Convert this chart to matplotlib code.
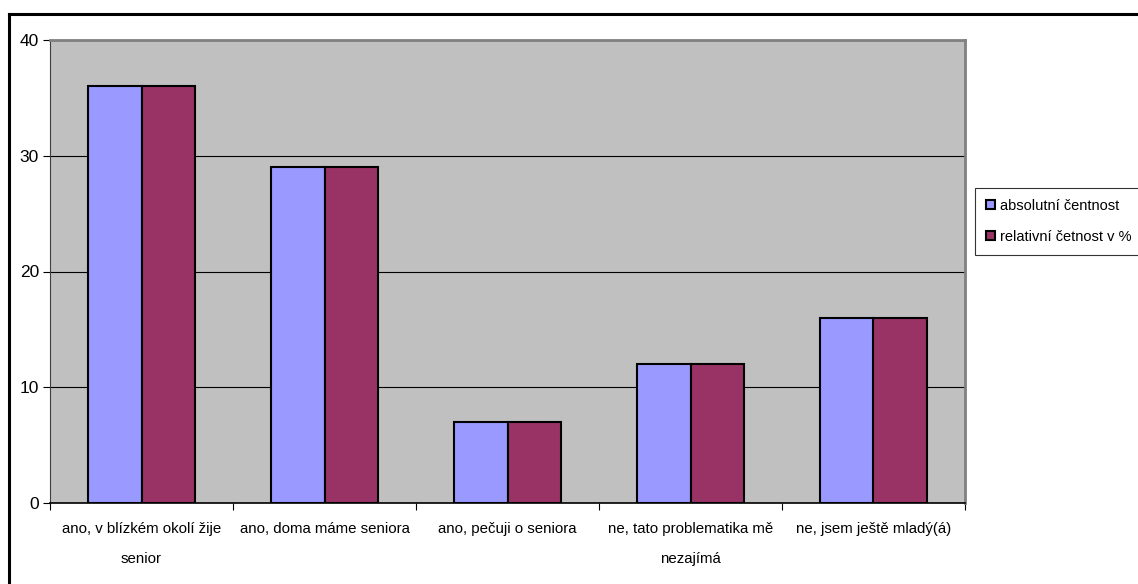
import numpy as np
import matplotlib.pyplot as plt
from matplotlib.lines import Line2D

plt.rcParams['font.family'] = ['Liberation Sans', 'DejaVu Sans']

# Data
categories = [
    "ano, v blízkém okolí žije\nsenior",
    "ano, doma máme seniora",
    "ano, pečuji o seniora",
    "ne, tato problematika mě\nnezajímá",
    "ne, jsem ještě mladý(á)",
]
absolutni = [36, 29, 7, 12, 16]
relativni = [36, 29, 7, 12, 16]
series_names = ["absolutní čentnost", "relativní četnost v %"]

fig = plt.figure(figsize=(11.38, 5.84), dpi=100)
ax = fig.add_axes([50 / 1138, 1 - 503 / 584, 915 / 1138, 463 / 584])
ax.set_facecolor("#C0C0C0")

x = np.arange(len(categories))
w = 0.29
ax.bar(x - w / 2, absolutni, w, color="#9999FF", edgecolor="black",
       linewidth=1.5, label=series_names[0], zorder=3)
ax.bar(x + w / 2, relativni, w, color="#993366", edgecolor="black",
       linewidth=1.5, label=series_names[1], zorder=3)

ax.set_xlim(-0.5, len(categories) - 0.5)
ax.set_ylim(0, 40)
ax.set_yticks([0, 10, 20, 30, 40])
ax.yaxis.grid(True, color="black", linewidth=0.8, zorder=1)

# category ticks sit between groups, labels centred under them
ax.set_xticks(np.arange(len(categories) + 1) - 0.5)
ax.set_xticklabels([])
ax.set_xticks(x, minor=True)
ax.set_xticklabels(categories, minor=True, fontsize=10.8, linespacing=2.4)
ax.tick_params(axis="x", which="minor", length=0, pad=14)
ax.tick_params(axis="x", which="major", length=5, direction="out", color="black")
ax.tick_params(axis="y", length=5, direction="out", labelsize=12.5, pad=3)

ax.spines["top"].set_color("#808080")
ax.spines["right"].set_color("#808080")
ax.spines["top"].set_linewidth(2)
ax.spines["right"].set_linewidth(2)
ax.spines["left"].set_color("#404040")
ax.spines["bottom"].set_color("black")
ax.spines["bottom"].set_linewidth(1.2)

# outer chart frame
fig.add_artist(Line2D([9 / 1138, 1.0], [1 - 14 / 584, 1 - 14 / 584],
                      color="black", linewidth=2.2, transform=fig.transFigure))
fig.add_artist(Line2D([9 / 1138, 9 / 1138], [0, 1 - 14 / 584],
                      color="black", linewidth=2.2, transform=fig.transFigure))

leg = fig.legend(loc="upper left", bbox_to_anchor=(975 / 1138, 1 - 188 / 584),
                 fontsize=10.5, frameon=True, fancybox=False, edgecolor="black",
                 handlelength=0.6, handleheight=0.6, handletextpad=0.35,
                 labelspacing=1.15, borderpad=0.75, borderaxespad=0)
leg.get_frame().set_linewidth(0.8)

fig.savefig("out.png", dpi=100)
